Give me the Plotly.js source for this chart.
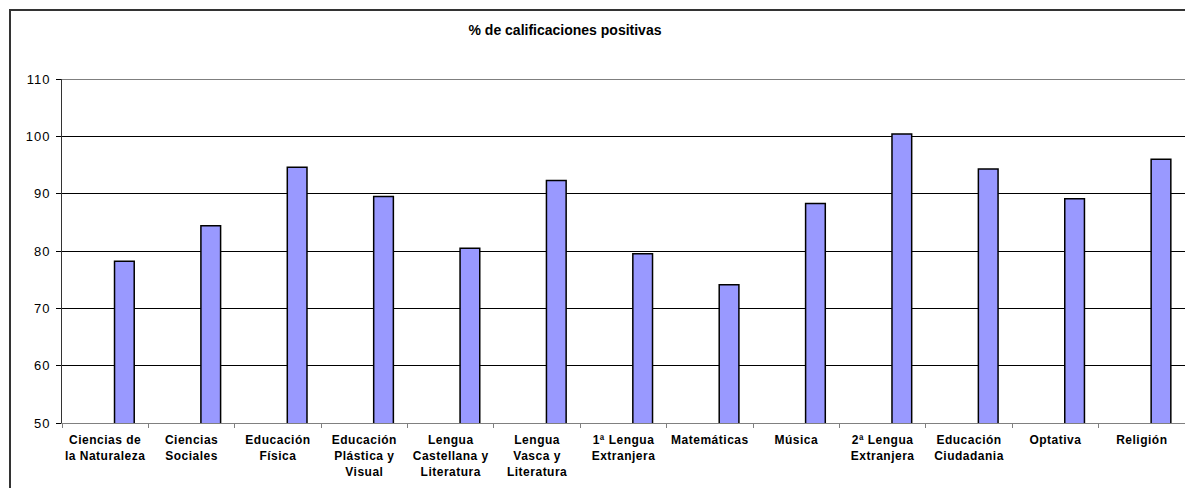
<!DOCTYPE html>
<html>
<head>
<meta charset="utf-8">
<script src="https://cdn.plot.ly/plotly-3.0.1.min.js"></script>
<style>
  html, body { margin: 0; padding: 0; background: #ffffff; }
  #chart { width: 1185px; height: 488px; }
  .xtick text { letter-spacing: 0.5px; }
  .ytick text { letter-spacing: 1px; }
</style>
</head>
<body>
<div id="chart"></div>
<script>
const categories = [
  "Ciencias de<br>la Naturaleza",
  "Ciencias<br>Sociales",
  "Educación<br>Física",
  "Educación<br>Plástica y<br>Visual",
  "Lengua<br>Castellana y<br>Literatura",
  "Lengua<br>Vasca y<br>Literatura",
  "1ª Lengua<br>Extranjera",
  "Matemáticas",
  "Música",
  "2ª Lengua<br>Extranjera",
  "Educación<br>Ciudadania",
  "Optativa",
  "Religión"
];
const positivePct = [78.2, 84.4, 94.6, 89.5, 80.5, 92.3, 79.5, 74.1, 88.3, 100.4, 94.3, 89.1, 96.0];
const chartTitle = "% de calificaciones positivas";
const yMin = 50;
const yMax = 110;

const trace = {
  type: "bar",
  x: categories,
  y: positivePct,
  offset: 0.108,
  width: 0.228,
  marker: { color: "#9999FF", line: { color: "#000000", width: 1.5 } },
  cliponaxis: true,
  hoverinfo: "x+y"
};

const layout = {
  width: 1185,
  height: 488,
  margin: { l: 62, r: 0, t: 79, b: 65 },
  paper_bgcolor: "#ffffff",
  plot_bgcolor: "#ffffff",
  showlegend: false,
  font: { family: "Liberation Sans, Arial, sans-serif", color: "#000000" },
  title: {
    text: "<b>" + chartTitle + "</b>",
    font: { size: 14, family: "Liberation Sans, Arial, sans-serif", color: "#000000" },
    xref: "container", x: 565 / 1185, xanchor: "center",
    yref: "container", y: 1 - 30 / 488, yanchor: "middle"
  },
  xaxis: {
    type: "category",
    range: [-0.5, 12.5],
    tickson: "boundaries",
    ticks: "outside",
    ticklen: 4,
    tickcolor: "#808080",
    ticklabelstandoff: 6,
    showline: true,
    linecolor: "#808080",
    linewidth: 1,
    showgrid: false,
    tickfont: { size: 12, family: "Liberation Sans, Arial, sans-serif", color: "#000000", weight: "bold" },
    tickangle: 0,
    fixedrange: true
  },
  yaxis: {
    range: [yMin, yMax],
    dtick: 10,
    tick0: 50,
    ticks: "outside",
    ticklen: 5,
    tickcolor: "#000000",
    ticklabelstandoff: 3,
    showline: true,
    linecolor: "#333333",
    linewidth: 1,
    showgrid: true,
    gridcolor: "#000000",
    gridwidth: 1,
    zeroline: false,
    tickfont: { size: 13, family: "Liberation Sans, Arial, sans-serif", color: "#000000" },
    fixedrange: true
  },
  shapes: [
    {
      type: "line",
      xref: "paper", yref: "y",
      x0: 0, x1: 1, y0: yMax, y1: yMax,
      line: { color: "#000000", width: 1 },
      layer: "below"
    },
    {
      type: "rect",
      xref: "paper", yref: "paper",
      x0: (10 - 62) / 1123, x1: 1.1,
      y0: -0.3, y1: (423 - 10) / 344,
      line: { color: "#333333", width: 2 },
      fillcolor: "rgba(0,0,0,0)",
      layer: "above"
    }
  ]
};

Plotly.newPlot("chart", [trace], layout, { displayModeBar: false, staticPlot: true });
</script>
</body>
</html>
